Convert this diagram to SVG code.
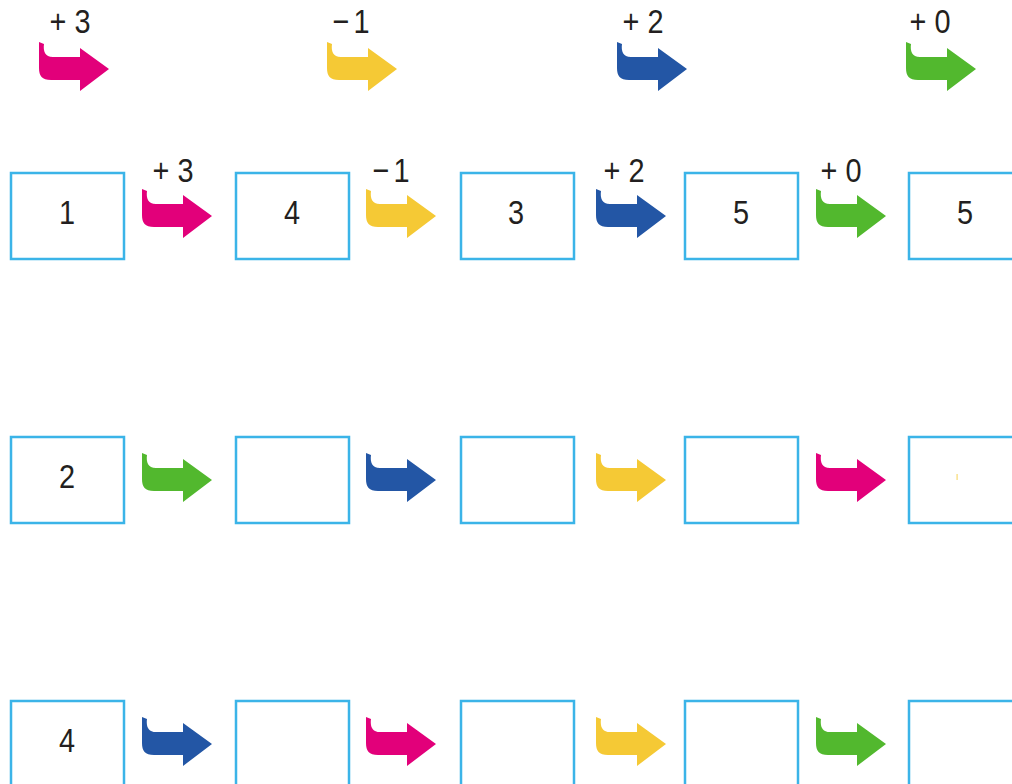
<svg xmlns="http://www.w3.org/2000/svg" xmlns:xlink="http://www.w3.org/1999/xlink" width="1012" height="784" viewBox="0 0 1012 784">
<style>
.box{fill:#fff;stroke:#3bb4e8;stroke-width:2.5}
.t{font-family:"Liberation Sans",Arial,sans-serif;font-size:34px;fill:#231f20;text-anchor:middle}
.pink{fill:#e2007a}.yellow{fill:#f5c935}.blue{fill:#2356a5}.green{fill:#52b82e}
</style>
<defs>
<path id="arr" d="M0,0 L5,2 C4,9 6,15 14,15 L41,15 L41,6 L70,27 L41,49 L41,38 L12,38 C3,38 0,34 0,26 Z"/>
</defs>
<rect width="1012" height="784" fill="#fff"/>
<g id="legend">
<g id="leg-plus3"><use xlink:href="#arr" href="#arr" class="pink" x="39" y="42"/><text class="t" transform="translate(70,33) scale(0.85,1)">+ 3</text></g>
<g id="leg-minus1"><use xlink:href="#arr" href="#arr" class="yellow" x="327" y="42"/><text class="t" transform="translate(351,33) scale(0.85,1)">−<tspan dx="5">1</tspan></text></g>
<g id="leg-plus2"><use xlink:href="#arr" href="#arr" class="blue" x="617" y="42"/><text class="t" transform="translate(643,33) scale(0.85,1)">+ 2</text></g>
<g id="leg-plus0"><use xlink:href="#arr" href="#arr" class="green" x="906" y="42"/><text class="t" transform="translate(930,33) scale(0.85,1)">+ 0</text></g>
</g>
<g id="row1">
<g id="r1b1"><rect class="box" x="11" y="173" width="113" height="86"/><text class="t" transform="translate(67,224) scale(0.85,1)">1</text></g>
<g id="r1b2"><rect class="box" x="236" y="173" width="113" height="86"/><text class="t" transform="translate(292,224) scale(0.85,1)">4</text></g>
<g id="r1b3"><rect class="box" x="461" y="173" width="113" height="86"/><text class="t" transform="translate(516,224) scale(0.85,1)">3</text></g>
<g id="r1b4"><rect class="box" x="685" y="173" width="113" height="86"/><text class="t" transform="translate(741,224) scale(0.85,1)">5</text></g>
<g id="r1b5"><rect class="box" x="909" y="173" width="113" height="86"/><text class="t" transform="translate(965,224) scale(0.85,1)">5</text></g>
</g>
<g id="row2">
<g id="r2b1"><rect class="box" x="11" y="437" width="113" height="86"/><text class="t" transform="translate(67,488) scale(0.85,1)">2</text></g>
<g id="r2b2"><rect class="box" x="236" y="437" width="113" height="86"/></g>
<g id="r2b3"><rect class="box" x="461" y="437" width="113" height="86"/></g>
<g id="r2b4"><rect class="box" x="685" y="437" width="113" height="86"/></g>
<g id="r2b5"><rect class="box" x="909" y="437" width="113" height="86"/><rect x="956.5" y="474" width="1.2" height="6" fill="#f5c935" opacity="0.7"/></g>
</g>
<g id="row3">
<g id="r3b1"><rect class="box" x="11" y="701" width="113" height="86"/><text class="t" transform="translate(67,752) scale(0.85,1)">4</text></g>
<g id="r3b2"><rect class="box" x="236" y="701" width="113" height="86"/></g>
<g id="r3b3"><rect class="box" x="461" y="701" width="113" height="86"/></g>
<g id="r3b4"><rect class="box" x="685" y="701" width="113" height="86"/></g>
<g id="r3b5"><rect class="box" x="909" y="701" width="113" height="86"/></g>
</g>
<g id="connectors">
<use xlink:href="#arr" href="#arr" class="pink" x="142" y="189"/><text class="t" transform="translate(173,182) scale(0.85,1)">+ 3</text>
<use xlink:href="#arr" href="#arr" class="yellow" x="366" y="189"/><text class="t" transform="translate(391,182) scale(0.85,1)">−<tspan dx="5">1</tspan></text>
<use xlink:href="#arr" href="#arr" class="blue" x="596" y="189"/><text class="t" transform="translate(624,182) scale(0.85,1)">+ 2</text>
<use xlink:href="#arr" href="#arr" class="green" x="816" y="189"/><text class="t" transform="translate(841,182) scale(0.85,1)">+ 0</text>
<use xlink:href="#arr" href="#arr" class="green" x="142" y="453"/>
<use xlink:href="#arr" href="#arr" class="blue" x="366" y="453"/>
<use xlink:href="#arr" href="#arr" class="yellow" x="596" y="453"/>
<use xlink:href="#arr" href="#arr" class="pink" x="816" y="453"/>
<use xlink:href="#arr" href="#arr" class="blue" x="142" y="717"/>
<use xlink:href="#arr" href="#arr" class="pink" x="366" y="717"/>
<use xlink:href="#arr" href="#arr" class="yellow" x="596" y="717"/>
<use xlink:href="#arr" href="#arr" class="green" x="816" y="717"/>
</g>
</svg>
